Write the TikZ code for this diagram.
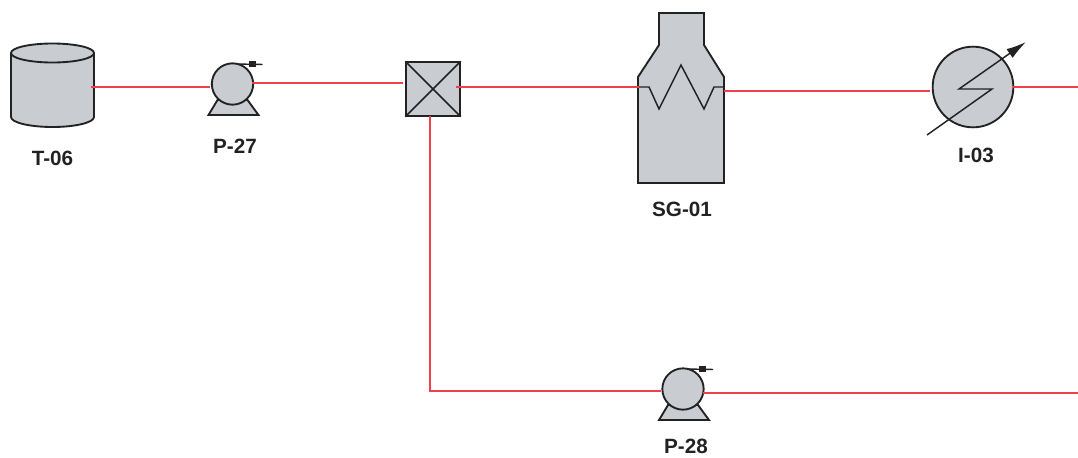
\documentclass[tikz,border=0pt]{standalone}
\usepackage{fontspec}
\setmainfont{Liberation Sans}
\definecolor{eqfill}{HTML}{C9CCD1}
\definecolor{eqline}{HTML}{222222}
\definecolor{pipe}{HTML}{F0404C}
\usetikzlibrary{arrows.meta}
\tikzset{
  eqpath/.style={draw=eqline,fill=eqfill,line width=1.4pt,line join=miter},
  eqthin/.style={draw=eqline,line width=1.1pt},
  pumpbody/.style={circle,draw=eqline,fill=eqfill,line width=1.4pt,inner sep=0pt,minimum size=31pt},
  hxbody/.style={circle,draw=eqline,fill=eqfill,line width=1.4pt,inner sep=0pt,minimum size=60.5pt},
  mixbody/.style={rectangle,draw=eqline,fill=eqfill,line width=1.6pt,inner sep=0pt,minimum size=40pt},
  pipeline/.style={draw=pipe,line width=1.5pt},
  tag/.style={font=\bfseries\fontsize{15.5}{17}\selectfont,text=eqline,inner sep=0pt},
  pics/pumpbase/.style={code={
    \draw[eqpath] (-24,31) -- (-15,16) -- (15,16) -- (26,31) -- cycle;
    \draw[eqthin] (0,-20) -- (30,-19.5);
    \fill[eqline] (16,-23) rectangle (23,-17);
  }}
}
\begin{document}
\begin{tikzpicture}[x=0.75pt,y=-0.75pt]
\useasboundingbox (0,0) rectangle (1078,457);
% tank
\draw[eqpath] (11,53) -- (11,117) arc[x radius=41.5,y radius=10,start angle=180,end angle=0] -- (94,53)
  arc[x radius=41.5,y radius=9.5,start angle=0,end angle=-180] -- cycle;
\draw[eqthin,line width=1.4pt] (11,53) arc[x radius=41.5,y radius=9.5,start angle=180,end angle=0];
\coordinate (t06out) at (91,87);
\node[tag] (t06lab) at (52.5,158) {T-06};
% pump P-27
\pic at (232.5,84) {pumpbase};
\node[pumpbody] (p27) at (232.5,84) {};
\coordinate (p27in) at (210,87);
\coordinate (p27out) at (252,83);
\node[tag] (p27lab) at (235,146) {P-27};
% mixer
\node[mixbody] (mix) at (433,89) {};
\draw[eqthin] (mix.north west) -- (mix.south east);
\draw[eqthin] (mix.north east) -- (mix.south west);
\coordinate (mixin) at (403,83);
\coordinate (mixout) at (456,87);
\coordinate (mixdown) at (430,116);
% steam generator
\draw[eqpath] (638,183) -- (638,77) -- (659,45) -- (659,13) -- (704,13) -- (704,45) -- (724,77) -- (724,183) -- cycle;
\draw[eqthin] (638,87) -- (649,87) -- (659,109) -- (681,65) -- (704,109) -- (714,87) -- (724,87);
\coordinate (sgin) at (639,87);
\coordinate (sgout) at (724,90.5);
\node[tag] (sglab) at (682,209) {SG-01};
% heater
\node[hxbody] (hx) at (973,87) {};
\draw[eqthin,-{Latex[length=15pt,width=8pt]}] (927,135) -- (992,89) -- (959,89) -- (1026,42);
\coordinate (hxin) at (930,91);
\coordinate (hxout) at (1012,87);
\coordinate (rightend) at (1078,87);
\node[tag] (hxlab) at (976,155) {I-03};
% pump P-28
\pic at (683,389) {pumpbase};
\node[pumpbody] (p28) at (683,389) {};
\coordinate (p28in) at (661,391);
\coordinate (p28out) at (703,393);
\coordinate (rightlow) at (1078,393);
\coordinate (bend) at (430,391);
\node[tag] (p28lab) at (686,446.5) {P-28};
% pipes
\draw[pipeline] (t06out) -- (p27in);
\draw[pipeline] (p27out) -- (mixin);
\draw[pipeline] (mixout) -- (sgin);
\draw[pipeline] (sgout) -- (hxin |- sgout);
\draw[pipeline] (hxout) -- (rightend);
\draw[pipeline] (mixdown) -- (bend) -- (p28in);
\draw[pipeline] (p28out) -- (rightlow);
\end{tikzpicture}
\end{document}
